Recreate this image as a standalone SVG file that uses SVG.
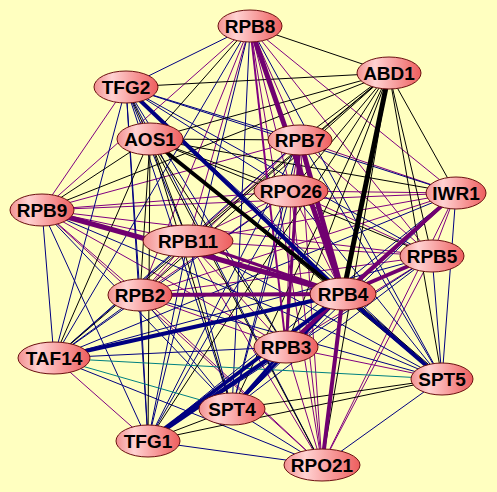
<svg xmlns="http://www.w3.org/2000/svg" width="497" height="492" viewBox="0 0 497 492">
<defs>
<linearGradient id="g" x1="0" y1="0" x2="1" y2="0">
<stop offset="0" stop-color="#F29090"/>
<stop offset="0.28" stop-color="#FFD2D2"/>
<stop offset="1" stop-color="#EE5E5E"/>
</linearGradient>
</defs>
<style>
.p{stroke:#800080;stroke-width:1}
.b{stroke:#000080;stroke-width:1}
.k{stroke:#000;stroke-width:1}
.t{stroke:#008080;stroke-width:1}
.w2{stroke-width:2}
.w3{stroke-width:3}
.w4{stroke-width:4}
.w5{stroke-width:5}
.p.w3,.p.w4,.p.w5{stroke:#700070}
ellipse{fill:url(#g);stroke:#6B1010;stroke-width:1}
text{font-family:"Liberation Sans",Arial,sans-serif;font-weight:bold;font-size:19px;text-anchor:middle;fill:#000}
</style>
<rect width="497" height="492" fill="#FFFFC0"/>
<g id="edges" fill="none">
<line class="p" x1="250" y1="26" x2="300" y2="140"/>
<line class="p" x1="250" y1="26" x2="291" y2="191"/>
<line class="p" x1="250" y1="26" x2="456" y2="193"/>
<line class="p" x1="250" y1="26" x2="42" y2="210"/>
<line class="p" x1="250" y1="26" x2="188" y2="241"/>
<line class="p" x1="250" y1="26" x2="432" y2="256"/>
<line class="p" x1="250" y1="26" x2="140" y2="295"/>
<line class="p" x1="250" y1="26" x2="322" y2="465"/>
<line class="p" x1="126" y1="87" x2="42" y2="210"/>
<line class="p" x1="300" y1="140" x2="291" y2="191"/>
<line class="p" x1="300" y1="140" x2="456" y2="193"/>
<line class="p" x1="300" y1="140" x2="42" y2="210"/>
<line class="p" x1="300" y1="140" x2="188" y2="241"/>
<line class="p" x1="300" y1="140" x2="432" y2="256"/>
<line class="p" x1="300" y1="140" x2="140" y2="295"/>
<line class="p" x1="300" y1="140" x2="322" y2="465"/>
<line class="p" x1="291" y1="191" x2="456" y2="193"/>
<line class="p" x1="291" y1="191" x2="42" y2="210"/>
<line class="p" x1="291" y1="191" x2="188" y2="241"/>
<line class="p" x1="291" y1="191" x2="432" y2="256"/>
<line class="p" x1="291" y1="191" x2="140" y2="295"/>
<line class="p" x1="291" y1="191" x2="343" y2="294"/>
<line class="p" x1="291" y1="191" x2="286" y2="347"/>
<line class="p" x1="291" y1="191" x2="322" y2="465"/>
<line class="p" x1="456" y1="193" x2="42" y2="210"/>
<line class="p" x1="456" y1="193" x2="188" y2="241"/>
<line class="p" x1="456" y1="193" x2="432" y2="256"/>
<line class="p" x1="456" y1="193" x2="140" y2="295"/>
<line class="p" x1="456" y1="193" x2="322" y2="465"/>
<line class="p" x1="42" y1="210" x2="188" y2="241"/>
<line class="p" x1="42" y1="210" x2="432" y2="256"/>
<line class="p" x1="42" y1="210" x2="140" y2="295"/>
<line class="p" x1="42" y1="210" x2="286" y2="347"/>
<line class="p" x1="42" y1="210" x2="322" y2="465"/>
<line class="p" x1="188" y1="241" x2="432" y2="256"/>
<line class="p" x1="188" y1="241" x2="140" y2="295"/>
<line class="p" x1="188" y1="241" x2="286" y2="347"/>
<line class="p" x1="188" y1="241" x2="322" y2="465"/>
<line class="p" x1="432" y1="256" x2="140" y2="295"/>
<line class="p" x1="432" y1="256" x2="286" y2="347"/>
<line class="p" x1="432" y1="256" x2="322" y2="465"/>
<line class="p" x1="140" y1="295" x2="286" y2="347"/>
<line class="p" x1="140" y1="295" x2="322" y2="465"/>
<line class="p" x1="286" y1="347" x2="442" y2="379"/>
<line class="p" x1="286" y1="347" x2="322" y2="465"/>
<line class="p" x1="54" y1="358" x2="148" y2="441"/>
<line class="b" x1="250" y1="26" x2="126" y2="87"/>
<line class="b" x1="250" y1="26" x2="54" y2="358"/>
<line class="b" x1="250" y1="26" x2="442" y2="379"/>
<line class="b" x1="250" y1="26" x2="232" y2="409"/>
<line class="b" x1="250" y1="26" x2="148" y2="441"/>
<line class="b" x1="126" y1="87" x2="300" y2="140"/>
<line class="b" x1="126" y1="87" x2="291" y2="191"/>
<line class="b" x1="126" y1="87" x2="456" y2="193"/>
<line class="b" x1="126" y1="87" x2="188" y2="241"/>
<line class="b" x1="126" y1="87" x2="432" y2="256"/>
<line class="b" x1="126" y1="87" x2="140" y2="295"/>
<line class="b" x1="126" y1="87" x2="286" y2="347"/>
<line class="b" x1="126" y1="87" x2="54" y2="358"/>
<line class="b" x1="126" y1="87" x2="442" y2="379"/>
<line class="b" x1="126" y1="87" x2="232" y2="409"/>
<line class="b" x1="126" y1="87" x2="148" y2="441"/>
<line class="b" x1="126" y1="87" x2="322" y2="465"/>
<line class="b" x1="300" y1="140" x2="54" y2="358"/>
<line class="b" x1="300" y1="140" x2="442" y2="379"/>
<line class="b" x1="300" y1="140" x2="232" y2="409"/>
<line class="b" x1="300" y1="140" x2="148" y2="441"/>
<line class="b" x1="291" y1="191" x2="54" y2="358"/>
<line class="b" x1="291" y1="191" x2="442" y2="379"/>
<line class="b" x1="291" y1="191" x2="232" y2="409"/>
<line class="b" x1="291" y1="191" x2="148" y2="441"/>
<line class="b" x1="456" y1="193" x2="54" y2="358"/>
<line class="b" x1="456" y1="193" x2="442" y2="379"/>
<line class="b" x1="456" y1="193" x2="232" y2="409"/>
<line class="b" x1="456" y1="193" x2="148" y2="441"/>
<line class="b" x1="42" y1="210" x2="54" y2="358"/>
<line class="b" x1="42" y1="210" x2="442" y2="379"/>
<line class="b" x1="42" y1="210" x2="232" y2="409"/>
<line class="b" x1="42" y1="210" x2="148" y2="441"/>
<line class="b" x1="188" y1="241" x2="54" y2="358"/>
<line class="b" x1="188" y1="241" x2="442" y2="379"/>
<line class="b" x1="188" y1="241" x2="232" y2="409"/>
<line class="b" x1="188" y1="241" x2="148" y2="441"/>
<line class="b" x1="432" y1="256" x2="54" y2="358"/>
<line class="b" x1="432" y1="256" x2="442" y2="379"/>
<line class="b" x1="432" y1="256" x2="232" y2="409"/>
<line class="b" x1="432" y1="256" x2="148" y2="441"/>
<line class="b" x1="140" y1="295" x2="54" y2="358"/>
<line class="b" x1="140" y1="295" x2="442" y2="379"/>
<line class="b" x1="140" y1="295" x2="232" y2="409"/>
<line class="b" x1="140" y1="295" x2="148" y2="441"/>
<line class="b" x1="286" y1="347" x2="54" y2="358"/>
<line class="b" x1="54" y1="358" x2="322" y2="465"/>
<line class="b" x1="442" y1="379" x2="322" y2="465"/>
<line class="b" x1="232" y1="409" x2="322" y2="465"/>
<line class="b" x1="148" y1="441" x2="322" y2="465"/>
<line class="t" x1="54" y1="358" x2="442" y2="379"/>
<line class="t" x1="54" y1="358" x2="232" y2="409"/>
<line class="k" x1="389" y1="73" x2="250" y2="26"/>
<line class="k" x1="389" y1="73" x2="126" y2="87"/>
<line class="k" x1="389" y1="73" x2="150" y2="139"/>
<line class="k" x1="389" y1="73" x2="300" y2="140"/>
<line class="k" x1="389" y1="73" x2="291" y2="191"/>
<line class="k" x1="389" y1="73" x2="456" y2="193"/>
<line class="k" x1="389" y1="73" x2="42" y2="210"/>
<line class="k" x1="389" y1="73" x2="188" y2="241"/>
<line class="k" x1="389" y1="73" x2="432" y2="256"/>
<line class="k" x1="389" y1="73" x2="140" y2="295"/>
<line class="k" x1="389" y1="73" x2="286" y2="347"/>
<line class="k" x1="389" y1="73" x2="54" y2="358"/>
<line class="k" x1="389" y1="73" x2="442" y2="379"/>
<line class="k" x1="389" y1="73" x2="232" y2="409"/>
<line class="k" x1="389" y1="73" x2="148" y2="441"/>
<line class="k" x1="389" y1="73" x2="322" y2="465"/>
<line class="k" x1="150" y1="139" x2="250" y2="26"/>
<line class="k" x1="150" y1="139" x2="126" y2="87"/>
<line class="k" x1="150" y1="139" x2="300" y2="140"/>
<line class="k" x1="150" y1="139" x2="291" y2="191"/>
<line class="k" x1="150" y1="139" x2="456" y2="193"/>
<line class="k" x1="150" y1="139" x2="42" y2="210"/>
<line class="k" x1="150" y1="139" x2="188" y2="241"/>
<line class="k" x1="150" y1="139" x2="432" y2="256"/>
<line class="k" x1="150" y1="139" x2="140" y2="295"/>
<line class="k" x1="150" y1="139" x2="286" y2="347"/>
<line class="k" x1="150" y1="139" x2="54" y2="358"/>
<line class="k" x1="150" y1="139" x2="442" y2="379"/>
<line class="k" x1="150" y1="139" x2="232" y2="409"/>
<line class="k" x1="150" y1="139" x2="148" y2="441"/>
<line class="k" x1="150" y1="139" x2="322" y2="465"/>
<line class="k" x1="442" y1="379" x2="232" y2="409"/>
<line class="k" x1="442" y1="379" x2="148" y2="441"/>
<line class="k" x1="232" y1="409" x2="148" y2="441"/>
<line class="k" x1="343" y1="291" x2="442" y2="376"/>
<line class="p w2" x1="250" y1="26" x2="286" y2="347"/>
<line class="p w3" x1="300" y1="140" x2="286" y2="347"/>
<line class="p w3" x1="456" y1="193" x2="286" y2="347"/>
<line class="p w3" x1="188" y1="241" x2="343" y2="294"/>
<line class="b w3" x1="343" y1="294" x2="232" y2="409"/>
<line class="b w3" x1="286" y1="347" x2="232" y2="409"/>
<line class="p w5" x1="250" y1="26" x2="343" y2="294"/>
<line class="p w5" x1="300" y1="140" x2="343" y2="294"/>
<line class="p w4" x1="456" y1="193" x2="343" y2="294"/>
<line class="p w5" x1="42" y1="210" x2="343" y2="294"/>
<line class="p w4" x1="432" y1="256" x2="343" y2="294"/>
<line class="p w4" x1="140" y1="295" x2="343" y2="294"/>
<line class="p w4" x1="343" y1="294" x2="286" y2="347"/>
<line class="p w4" x1="343" y1="294" x2="322" y2="465"/>
<line class="b w4" x1="126" y1="87" x2="343" y2="294"/>
<line class="b w4" x1="343" y1="294" x2="54" y2="358"/>
<line class="b w4" x1="343" y1="294" x2="442" y2="379"/>
<line class="b w4" x1="343" y1="294" x2="148" y2="441"/>
<line class="b w4" x1="286" y1="347" x2="148" y2="441"/>
<line class="k w5" x1="389" y1="73" x2="343" y2="294"/>
<line class="k w4" x1="150" y1="139" x2="343" y2="294"/>
</g>
<g id="RPB8"><ellipse cx="250" cy="26" rx="32" ry="16"/><text x="250" y="33">RPB8</text></g>
<g id="TFG2"><ellipse cx="126" cy="87" rx="32" ry="16"/><text x="126" y="94">TFG2</text></g>
<g id="ABD1"><ellipse cx="389" cy="73" rx="32" ry="16"/><text x="389" y="80">ABD1</text></g>
<g id="AOS1"><ellipse cx="150" cy="139" rx="33" ry="16"/><text x="150" y="146">AOS1</text></g>
<g id="RPB7"><ellipse cx="300" cy="140" rx="32" ry="15"/><text x="300" y="147">RPB7</text></g>
<g id="RPO26"><ellipse cx="291" cy="191" rx="37" ry="16"/><text x="291" y="198">RPO26</text></g>
<g id="IWR1"><ellipse cx="456" cy="193" rx="30" ry="16"/><text x="456" y="200">IWR1</text></g>
<g id="RPB9"><ellipse cx="42" cy="210" rx="32" ry="16"/><text x="42" y="217">RPB9</text></g>
<g id="RPB11"><ellipse cx="188" cy="241" rx="45" ry="16"/><text x="188" y="248">RPB11</text></g>
<g id="RPB5"><ellipse cx="432" cy="256" rx="32" ry="16"/><text x="432" y="263">RPB5</text></g>
<g id="RPB2"><ellipse cx="140" cy="295" rx="32" ry="16"/><text x="140" y="302">RPB2</text></g>
<g id="RPB4"><ellipse cx="343" cy="294" rx="33" ry="16"/><text x="343" y="301">RPB4</text></g>
<g id="RPB3"><ellipse cx="286" cy="347" rx="32" ry="16"/><text x="286" y="354">RPB3</text></g>
<g id="TAF14"><ellipse cx="54" cy="358" rx="36" ry="16"/><text x="54" y="365">TAF14</text></g>
<g id="SPT5"><ellipse cx="442" cy="379" rx="31" ry="16"/><text x="442" y="386">SPT5</text></g>
<g id="SPT4"><ellipse cx="232" cy="409" rx="33" ry="16"/><text x="232" y="416">SPT4</text></g>
<g id="TFG1"><ellipse cx="148" cy="441" rx="32" ry="16"/><text x="148" y="448">TFG1</text></g>
<g id="RPO21"><ellipse cx="322" cy="465" rx="38" ry="16"/><text x="322" y="472">RPO21</text></g>
</svg>
